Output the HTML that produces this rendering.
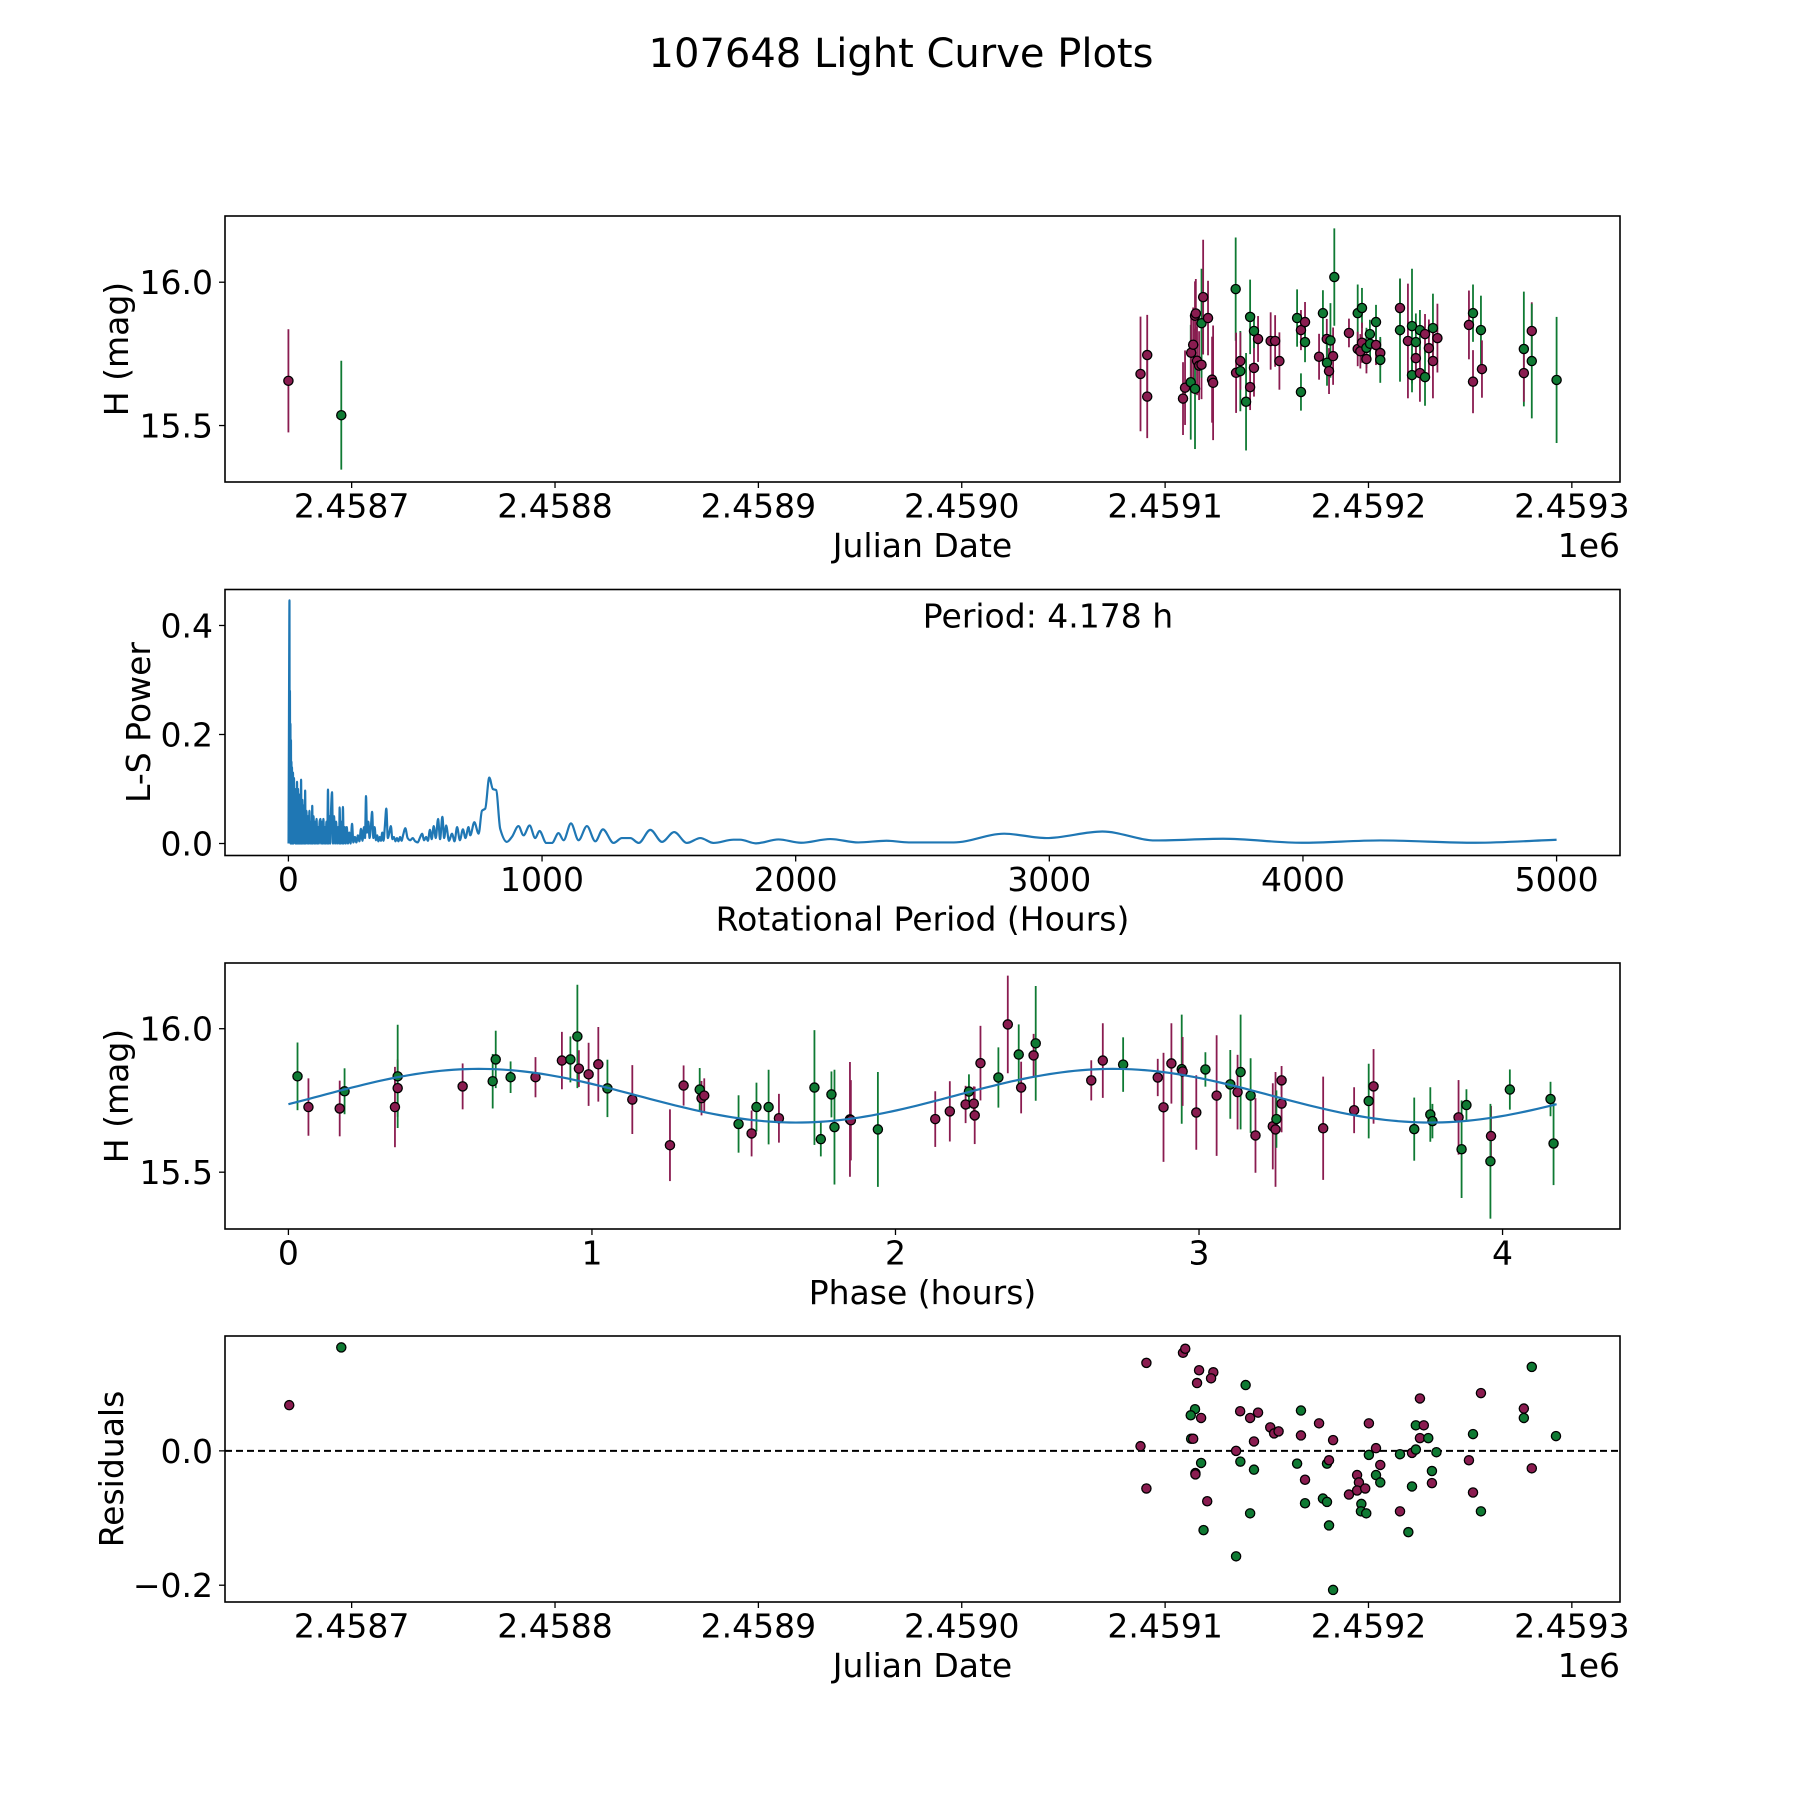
<!DOCTYPE html>
<html><head><meta charset="utf-8"><style>
html,body{margin:0;padding:0;background:#fff;}
svg{display:block;font-family:"DejaVu Sans","Liberation Sans",sans-serif;}
</style></head><body>
<svg id="fig" width="1800" height="1800" viewBox="0 0 1800 1800" xmlns="http://www.w3.org/2000/svg">
<rect width="1800" height="1800" fill="#fff"/>
<text x="901" y="67" font-size="40" text-anchor="middle">107648 Light Curve Plots</text>
</svg>
<script>
// ---------- Panel 1: light curve vs Julian date ----------
const lcJD = [2458668.9,2458694.9,2459087.9,2459091.2,2459091.2,2459108.8,2459109.8,2459112.6,2459114.7,2459112.8,2459113.8,2459114.7,2459115.1,2459115.7,2459116.7,2459117.9,2459117.9,2459118.7,2459121.1,2459123.1,2459123.6,2459134.7,2459134.9,2459137.0,2459137.0,2459139.8,2459141.8,2459141.8,2459143.7,2459143.7,2459145.7,2459151.9,2459154.1,2459156.2,2459164.9,2459166.8,2459168.8,2459168.8,2459166.8,2459175.7,2459177.6,2459179.5,2459181.3,2459179.6,2459180.6,2459182.6,2459183.2,2459190.4,2459194.7,2459196.8,2459194.7,2459196.0,2459196.8,2459199.0,2459199.0,2459200.7,2459200.8,2459203.7,2459203.7,2459205.8,2459205.8,2459215.5,2459215.5,2459221.4,2459221.4,2459219.4,2459223.3,2459223.3,2459225.3,2459225.3,2459227.8,2459227.8,2459229.7,2459231.7,2459231.7,2459233.9,2459249.4,2459251.4,2459251.4,2459255.3,2459255.8,2459276.4,2459276.4,2459280.3,2459280.3,2459292.5];
const lcMag = [15.656,15.536,15.680,15.746,15.601,15.594,15.632,15.651,15.628,15.754,15.782,15.883,15.891,15.726,15.709,15.712,15.857,15.948,15.875,15.660,15.649,15.976,15.684,15.690,15.725,15.583,15.634,15.879,15.701,15.830,15.802,15.795,15.795,15.725,15.875,15.833,15.861,15.791,15.617,15.740,15.892,15.802,15.797,15.719,15.690,15.742,16.018,15.823,15.892,15.910,15.767,15.759,15.789,15.771,15.732,15.819,15.785,15.781,15.861,15.753,15.729,15.910,15.833,15.847,15.676,15.795,15.791,15.735,15.683,15.833,15.819,15.669,15.770,15.840,15.725,15.805,15.851,15.892,15.653,15.833,15.697,15.767,15.683,15.830,15.725,15.659];
const lcErr = [0.18,0.19,0.20,0.14,0.145,0.127,0.13,0.2,0.21,0.12,0.13,0.12,0.12,0.12,0.12,0.12,0.19,0.2,0.13,0.15,0.2,0.18,0.14,0.14,0.1,0.17,0.08,0.13,0.1,0.06,0.08,0.1,0.09,0.1,0.1,0.07,0.07,0.07,0.065,0.08,0.08,0.07,0.13,0.08,0.08,0.1,0.17,0.05,0.1,0.07,0.06,0.06,0.07,0.07,0.05,0.05,0.05,0.07,0.06,0.05,0.08,0.1,0.18,0.2,0.06,0.2,0.1,0.05,0.1,0.07,0.07,0.1,0.1,0.12,0.13,0.12,0.12,0.1,0.11,0.12,0.1,0.2,0.1,0.1,0.2,0.22];
const lcBand = "mgmmmmmggmmmmmmmgmmmmgmgmgmgmgmmmmgmmggmgmggmmgmggmmmgmggmgmgmgggmgmmgmgmgmmmgmgmgmmgg".split("");
const lcTicks = [2458700,2458800,2458900,2459000,2459100,2459200,2459300];
const lcTickLabels = ["2.4587","2.4588","2.4589","2.4590","2.4591","2.4592","2.4593"];
const magTicks = [15.5,16.0];
const magTickLabels = ["15.5","16.0"];

// ---------- Panel 2: periodogram ----------
const lsPeriod = [0.5,2,3,4.2,5,6,7,8,9,10,11,12,13,14,16,18,20,22,24,26,28,30,32,34,36,38,40,42,44,46,48,50,52,55,58,61,64,66,68,71,74,77,80,83,86,89,92,94,96,99,102,105,108,111,114,117,120,123,126,129,132,135,138,141,144,147,150,153,156,159,162,165,168,172,176,180,184,188,192,196,200,202,205,208,212,215,218,222,226,230,235,240,245,251,256,262,268,274,280,286,292,298,302,306,310,315,320,325,330,335,340,345,350,355,360,365,370,375,380,386,392,398,404,410,416,422,428,434,440,446,452,461,470,480,490,500,510,518,527,535,543,550,558,565,573,581,590,598,607,614,622,633,645,655,665,676,688,698,710,717,733,750,763,776,792,806,819,835,861,881,907,927,951,973,990,1017,1039,1065,1085,1114,1144,1177,1210,1240,1282,1315,1348,1381,1427,1473,1521,1571,1624,1676,1755,1781,1843,1932,2021,2136,2247,2358,2446,2623,2822,2988,3209,3419,3685,3995,4305,4681,5000];
const lsPower = [0.0,0.20,0.33,0.446,0.05,0.28,0.02,0.22,0.0,0.19,0.01,0.15,0.0,0.14,0.0,0.13,0.0,0.12,0.01,0.10,0.0,0.09,0.0,0.113,0.0,0.10,0.0,0.09,0.0,0.08,0.0,0.117,0.0,0.08,0.0,0.07,0.0,0.097,0.0,0.06,0.0,0.05,0.0,0.06,0.0,0.04,0.0,0.069,0.0,0.05,0.0,0.04,0.0,0.045,0.0,0.03,0.0,0.04,0.045,0.0,0.04,0.0,0.045,0.0,0.03,0.0,0.04,0.0,0.099,0.0,0.05,0.0,0.06,0.094,0.0,0.05,0.0,0.04,0.0,0.03,0.0,0.066,0.0,0.04,0.0,0.067,0.0,0.03,0.0,0.03,0.0,0.02,0.0,0.036,0.002,0.012,0.002,0.015,0.004,0.027,0.005,0.03,0.01,0.087,0.02,0.04,0.01,0.03,0.058,0.01,0.03,0.006,0.015,0.004,0.012,0.005,0.02,0.005,0.03,0.064,0.01,0.02,0.032,0.008,0.012,0.004,0.01,0.004,0.012,0.005,0.015,0.028,0.01,0.006,0.01,0.004,0.002,0.01,0.018,0.006,0.012,0.005,0.025,0.008,0.032,0.01,0.045,0.008,0.049,0.01,0.033,0.005,0.018,0.004,0.030,0.006,0.026,0.01,0.03,0.015,0.039,0.018,0.060,0.064,0.121,0.100,0.098,0.027,0.003,0.012,0.032,0.015,0.033,0.010,0.023,0.001,0.001,0.019,0.006,0.037,0.006,0.032,0.004,0.026,0.001,0.010,0.010,0.001,0.025,0.003,0.021,0.001,0.010,0.001,0.007,0.007,0.0003,0.0075,0.0014,0.0082,0.002,0.0051,0.002,0.002,0.018,0.010,0.022,0.0056,0.0087,0.0014,0.0056,0.0014,0.0069];
const lsXTicks = [0,1000,2000,3000,4000,5000];
const lsXTickLabels = ["0","1000","2000","3000","4000","5000"];
const lsYTicks = [0.0,0.2,0.4];
const lsYTickLabels = ["0.0","0.2","0.4"];
const periodLabel = "Period: 4.178 h";

// ---------- Panel 3: phased light curve ----------
const phHours = [0.030,0.066,0.169,0.185,0.351,0.360,0.360,0.574,0.673,0.683,0.732,0.814,0.901,0.929,0.952,0.957,0.989,1.021,1.051,1.133,1.257,1.302,1.355,1.361,1.370,1.483,1.526,1.542,1.582,1.616,1.733,1.754,1.789,1.799,1.850,1.853,1.942,2.131,2.179,2.231,2.242,2.258,2.261,2.280,2.339,2.370,2.406,2.414,2.455,2.462,2.645,2.683,2.750,2.864,2.883,2.909,2.943,2.946,2.991,3.021,3.058,3.103,3.127,3.137,3.170,3.186,3.243,3.252,3.255,3.272,3.272,3.409,3.511,3.559,3.575,3.709,3.762,3.769,3.855,3.865,3.881,3.962,3.960,4.024,4.158,4.168];
const phMag = [15.834,15.727,15.722,15.782,15.727,15.793,15.834,15.799,15.817,15.893,15.831,15.831,15.889,15.893,15.973,15.861,15.841,15.876,15.792,15.753,15.594,15.802,15.788,15.758,15.767,15.668,15.635,15.727,15.727,15.688,15.795,15.615,15.771,15.657,15.684,15.681,15.649,15.685,15.712,15.736,15.781,15.739,15.698,15.880,15.830,16.015,15.910,15.795,15.907,15.949,15.820,15.889,15.875,15.830,15.726,15.879,15.859,15.851,15.708,15.858,15.767,15.806,15.779,15.849,15.767,15.628,15.660,15.649,15.685,15.739,15.820,15.653,15.716,15.748,15.799,15.650,15.701,15.678,15.691,15.580,15.734,15.626,15.538,15.788,15.755,15.600];
const phErr = [0.118,0.1,0.097,0.08,0.14,0.1,0.18,0.08,0.095,0.1,0.055,0.07,0.1,0.08,0.18,0.064,0.11,0.13,0.1,0.12,0.125,0.07,0.075,0.06,0.06,0.1,0.08,0.085,0.13,0.085,0.2,0.06,0.08,0.2,0.2,0.14,0.2,0.097,0.105,0.065,0.06,0.06,0.1,0.13,0.105,0.17,0.105,0.09,0.075,0.2,0.07,0.13,0.095,0.065,0.19,0.14,0.19,0.12,0.13,0.06,0.21,0.12,0.13,0.2,0.13,0.13,0.15,0.2,0.1,0.1,0.05,0.18,0.08,0.13,0.13,0.11,0.095,0.06,0.13,0.17,0.055,0.105,0.2,0.07,0.06,0.145];
const phBand = "gmmgmmgmgggmmggmmmgmmmgmmgmggmggggmmgmmmgmmmgmgmmgmmgmmmgmmgmgmggmmmgmmmmgmgggmggmgggggmm".slice(0,86).split("");
const modelParams = [15.7665, 0.0935, 4.178, -0.321]; // mean, amplitude, period (h), phase offset
const phXTicks = [0,1,2,3,4];
const phXTickLabels = ["0","1","2","3","4"];

// ---------- Panel 4: residuals ----------
const resJD = [2458669.3,2458694.9,2459087.9,2459090.8,2459090.8,2459108.8,2459109.9,2459116.7,2459123.7,2459122.6,2459115.7,2459114.7,2459112.6,2459117.7,2459112.8,2459113.8,2459117.7,2459114.9,2459114.9,2459120.7,2459118.9,2459139.6,2459136.9,2459141.8,2459145.7,2459143.7,2459134.9,2459137.0,2459143.7,2459141.8,2459134.9,2459151.7,2459153.6,2459155.8,2459166.8,2459166.8,2459175.7,2459182.6,2459164.9,2459168.8,2459168.8,2459177.6,2459179.6,2459179.6,2459180.6,2459180.6,2459182.6,2459190.4,2459194.4,2459195.3,2459194.4,2459198.4,2459196.5,2459196.3,2459198.9,2459200.2,2459200.2,2459203.7,2459205.8,2459203.7,2459205.8,2459215.5,2459215.5,2459221.4,2459219.6,2459221.4,2459223.3,2459225.3,2459223.3,2459227.2,2459225.3,2459229.4,2459233.4,2459231.2,2459231.2,2459249.4,2459251.4,2459251.4,2459255.3,2459255.3,2459276.4,2459276.4,2459280.3,2459280.3,2459292.2];
const resVal = [0.068,0.154,0.007,0.131,-0.056,0.146,0.152,0.120,0.117,0.108,0.101,0.062,0.053,0.049,0.018,0.018,-0.018,-0.033,-0.035,-0.075,-0.118,0.098,0.059,0.049,0.057,0.014,0.0,-0.016,-0.028,-0.093,-0.157,0.035,0.026,0.029,0.060,0.023,0.041,0.016,-0.019,-0.043,-0.078,-0.071,-0.076,-0.019,-0.014,-0.111,-0.207,-0.065,-0.036,-0.047,-0.059,-0.056,-0.079,-0.090,-0.093,0.041,-0.006,0.004,-0.021,-0.036,-0.047,-0.005,-0.090,-0.053,-0.121,-0.003,0.002,0.078,0.038,0.038,0.019,0.019,-0.002,-0.030,-0.048,-0.014,0.025,-0.062,0.086,-0.090,0.063,0.049,0.125,-0.026,0.022];
const resBand = "mgmmmmmmmmmggmgmgmmmggmmmmmggggmmmgmmmgmggggmggmmmmmgggmgmmgggmggmgmgmmgggmmgmmgmggmg".split("");
const resYTicks = [-0.2,0.0];
const resYTickLabels = ["\u22120.2","0.0"];

// ---------- drawing ----------
const NS = "http://www.w3.org/2000/svg";
const svg = document.getElementById("fig");
const COL = {m:"#8a1c50", g:"#0f7a33"};
const L = 225, R = 1620, H = 266;
const TOPS = [216, 589.5, 963, 1336];
function mk(tag, attrs, parent){ const e=document.createElementNS(NS,tag); for(const k in attrs) e.setAttribute(k,attrs[k]); (parent||svg).appendChild(e); return e; }
function lin(d0,d1,r0,r1){ return v => r0 + (v-d0)*(r1-r0)/(d1-d0); }
function padded(arr){ const mn=Math.min(...arr), mx=Math.max(...arr), p=(mx-mn)*0.05; return [mn-p, mx+p]; }

function axesFrame(i, name){
  const g = mk("g",{});
  
  
  return g;
}
function drawBorder(g, top){
  const r = mk("rect",{x:L,y:top,width:R-L,height:H,fill:"none",stroke:"#000","stroke-width":1.6},g);
  
  
}
function xTicks(g, top, sx, ticks, labels){
  ticks.forEach((t,k)=>{
    const x = sx(t);
    const tl = mk("line",{x1:x,x2:x,y1:top+H,y2:top+H+6,stroke:"#000","stroke-width":1.3},g);
    
    
    const tx = mk("text",{x:x,y:top+H+35.5,"font-size":33,"text-anchor":"middle"},g);
    tx.textContent = labels[k];
    
    
  });
}
function yTicks(g, top, sy, ticks, labels){
  ticks.forEach((t,k)=>{
    const y = sy(t);
    const tl = mk("line",{x1:L-6,x2:L,y1:y,y2:y,stroke:"#000","stroke-width":1.3},g);
    
    
    const tx = mk("text",{x:L-12,y:y+12,"font-size":33,"text-anchor":"end"},g);
    tx.textContent = labels[k];
    
    
  });
}
function xLabel(g, top, text, name){
  const t = mk("text",{x:(L+R)/2,y:top+H+75,"font-size":33,"text-anchor":"middle"},g);
  t.textContent = text;
  
  
}
function yLabel(g, top, x, text, name){
  const cy = top+H/2;
  const t = mk("text",{x:x,y:cy,"font-size":33,"text-anchor":"middle",transform:`rotate(-90 ${x} ${cy})`},g);
  t.textContent = text;
  
  
}
function offsetLabel(g, top){
  const t = mk("text",{x:R,y:top+H+75,"font-size":33,"text-anchor":"end"},g);
  t.textContent = "1e6";
  
  
}
function clip(id, top){
  const d = mk("clipPath",{id:id});
  mk("rect",{x:L,y:top,width:R-L,height:H},d);
}
function points(g, xs, ys, errs, bands, sx, sy, clipId, name){
  const pg = mk("g",{"clip-path":`url(#${clipId})`},g);
  xs.forEach((xv,k)=>{
    const x = sx(xv), y = sy(ys[k]), c = COL[bands[k]] || COL.m;
    if(errs){
      const el = mk("line",{x1:x,x2:x,y1:sy(ys[k]-errs[k]),y2:sy(ys[k]+errs[k]),stroke:c,"stroke-width":1.8},pg);
      
      
    }
  });
  xs.forEach((xv,k)=>{
    const x = sx(xv), y = sy(ys[k]), c = COL[bands[k]] || COL.m;
    const ci = mk("circle",{cx:x,cy:y,r:4.6,fill:c,stroke:"#000","stroke-width":1.3},pg);
    
    
  });
}
// monotone cubic path (no overshoot)
function monotonePath(X, Y){
  const n = X.length;
  const d = [], m = new Array(n);
  for(let i=0;i<n-1;i++) d.push((Y[i+1]-Y[i])/(X[i+1]-X[i]));
  m[0]=d[0]; m[n-1]=d[n-2];
  for(let i=1;i<n-1;i++){
    if(d[i-1]*d[i]<=0) m[i]=0;
    else { const w1=2*(X[i+1]-X[i])+(X[i]-X[i-1]), w2=(X[i+1]-X[i])+2*(X[i]-X[i-1]); m[i]=(w1+w2)/(w1/d[i-1]+w2/d[i]); }
  }
  let p = "M"+X[0].toFixed(2)+" "+Y[0].toFixed(2);
  for(let i=0;i<n-1;i++){
    const h = (X[i+1]-X[i])/3;
    p += "C"+(X[i]+h).toFixed(2)+" "+(Y[i]+m[i]*h).toFixed(2)+" "+(X[i+1]-h).toFixed(2)+" "+(Y[i+1]-m[i+1]*h).toFixed(2)+" "+X[i+1].toFixed(2)+" "+Y[i+1].toFixed(2);
  }
  return p;
}

// Panel 1
(function(){
  const top = TOPS[0];
  const g = axesFrame(0,'light-curve-panel');
  clip('c1',top);
  const xd = padded(lcJD);
  const sx = lin(xd[0],xd[1],L,R);
  const sy = lin(15.303,16.231,top+H,top);
  points(g, lcJD, lcMag, lcErr, lcBand, sx, sy, 'c1', 'magnitude-point');
  drawBorder(g, top);
  xTicks(g, top, sx, lcTicks, lcTickLabels);
  yTicks(g, top, sy, magTicks, magTickLabels);
  xLabel(g, top, "Julian Date", 'x-axis-title');
  offsetLabel(g, top);
  yLabel(g, top, 128, "H (mag)", 'y-axis-title');
})();

// Panel 2
(function(){
  const top = TOPS[1];
  const g = axesFrame(1,'periodogram-panel');
  clip('c2',top);
  const sx = lin(-250,5250,L,R);
  const sy = lin(-0.022,0.466,top+H,top);
  const d = monotonePath(lsPeriod.map(sx), lsPower.map(sy));
  const path = mk("path",{d:d,fill:"none",stroke:"#1f77b4","stroke-width":2.2,"stroke-linejoin":"round","clip-path":"url(#c2)"},g);
  
  
  drawBorder(g, top);
  xTicks(g, top, sx, lsXTicks, lsXTickLabels);
  yTicks(g, top, sy, lsYTicks, lsYTickLabels);
  xLabel(g, top, "Rotational Period (Hours)", 'x-axis-title');
  yLabel(g, top, 150, "L-S Power", 'y-axis-title');
  const t = mk("text",{x:1048,y:top+38,"font-size":33,"text-anchor":"middle"},g);
  t.textContent = periodLabel;
  
  
})();

// Panel 3
(function(){
  const top = TOPS[2];
  const g = axesFrame(2,'phased-curve-panel');
  clip('c3',top);
  const per = modelParams[2];
  const sx = lin(-per*0.05,per*1.05,L,R);
  const sy = lin(15.302,16.229,top+H,top);
  points(g, phHours, phMag, phErr, phBand, sx, sy, 'c3', 'phased-point');
  let d = "";
  for(let k=0;k<=200;k++){
    const x = per*k/200;
    const y = modelParams[0] + modelParams[1]*Math.sin(4*Math.PI*x/per + modelParams[3]);
    d += (k?"L":"M")+sx(x).toFixed(2)+" "+sy(y).toFixed(2);
  }
  const path = mk("path",{d:d,fill:"none",stroke:"#1f77b4","stroke-width":2.2},g);
  
  
  drawBorder(g, top);
  xTicks(g, top, sx, phXTicks, phXTickLabels);
  yTicks(g, top, sy, magTicks, magTickLabels);
  xLabel(g, top, "Phase (hours)", 'x-axis-title');
  yLabel(g, top, 128, "H (mag)", 'y-axis-title');
})();

// Panel 4
(function(){
  const top = TOPS[3];
  const g = axesFrame(3,'residuals-panel');
  clip('c4',top);
  const xd = padded(lcJD);
  const sx = lin(xd[0],xd[1],L,R);
  const sy = lin(-0.225,0.171,top+H,top);
  const zl = mk("line",{x1:L,x2:R,y1:sy(0),y2:sy(0),stroke:"#000","stroke-width":2,"stroke-dasharray":"7,4"},g);
  
  
  points(g, resJD, resVal, null, resBand, sx, sy, 'c4', 'residual-point');
  drawBorder(g, top);
  xTicks(g, top, sx, lcTicks, lcTickLabels);
  yTicks(g, top, sy, resYTicks, resYTickLabels);
  xLabel(g, top, "Julian Date", 'x-axis-title');
  offsetLabel(g, top);
  yLabel(g, top, 123, "Residuals", 'y-axis-title');
})();
</script>
</body></html>
